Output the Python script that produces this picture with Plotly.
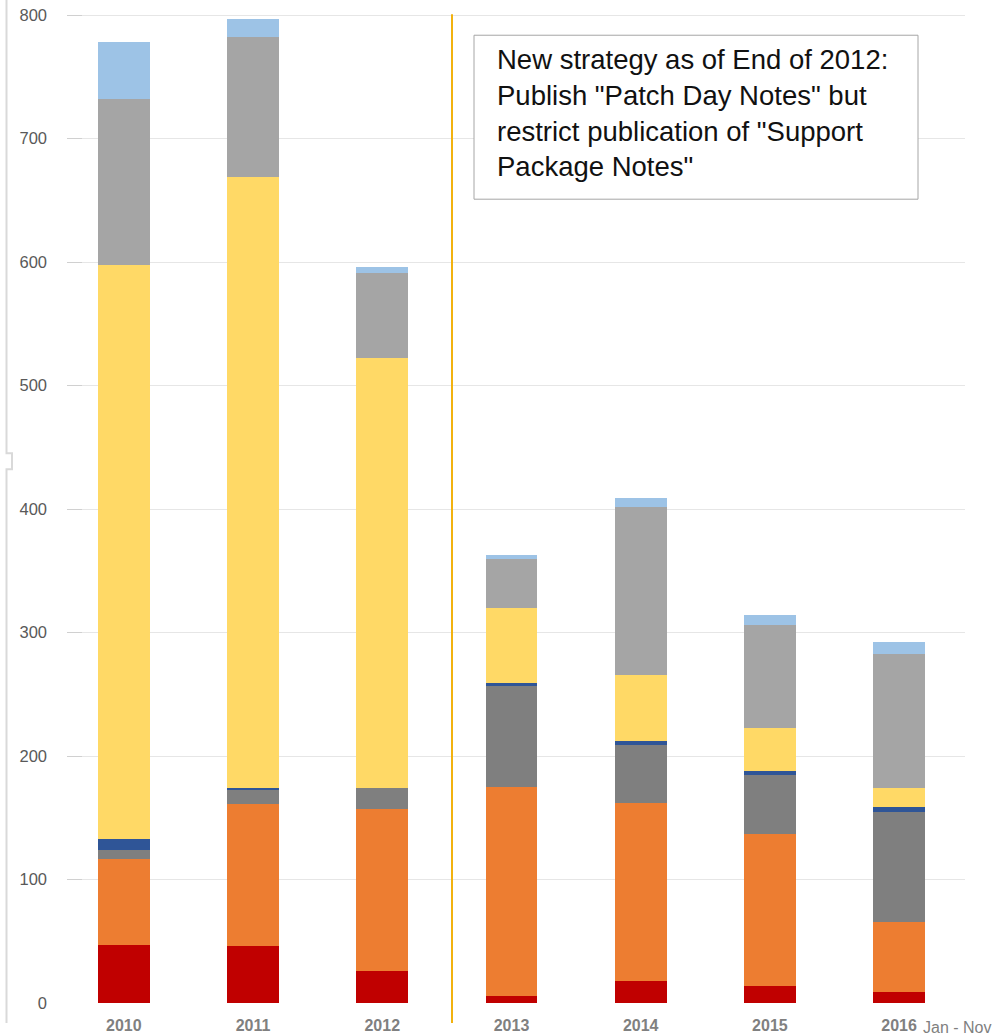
import plotly.graph_objects as go

years = ["2010", "2011", "2012", "2013", "2014", "2015", "2016"]
s_red = [47, 46, 26, 6, 18, 14, 9]
s_orange = [70, 115, 131, 169, 144, 123, 57]
s_dkgray = [7, 12, 17, 82, 47, 48, 89]
s_blue = [9, 1, 0, 2, 3, 3, 4]
s_yellow = [465, 495, 348, 61, 54, 35, 15]
s_gray = [134, 113, 69, 40, 136, 83, 109]
s_ltblue = [46, 15, 5, 3, 7, 8, 9]

series = [
    ("s1", s_red, "#C00000"),
    ("s2", s_orange, "#ED7D31"),
    ("s3", s_dkgray, "#7F7F7F"),
    ("s4", s_blue, "#2F5597"),
    ("s5", s_yellow, "#FFD966"),
    ("s6", s_gray, "#A5A5A5"),
    ("s7", s_ltblue, "#9DC3E6"),
]

# pixel helpers for decorations (plot area: x 67..965, y ~13.8..1003)
PLOT_TOP = 1003 - 801 * 988 / 800.0
PLOT_H = 1003 - PLOT_TOP

def px(sx):
    return (sx - 67) / 898.0

def py(sy):
    return (1003 - sy) / PLOT_H

fig = go.Figure()
for name, vals, col in series:
    fig.add_trace(go.Bar(x=years, y=vals, name=name, marker=dict(color=col, line=dict(width=0))))

fig.update_layout(
    barmode="stack",
    bargap=0.6,
    width=995, height=1036,
    margin=dict(l=67, r=30, t=PLOT_TOP, b=33, autoexpand=False),
    plot_bgcolor="white", paper_bgcolor="white",
    showlegend=False,
    font=dict(family="Liberation Sans, Arial", color="#595959"),
)
fig.update_yaxes(range=[0, 801], tickvals=[0, 100, 200, 300, 400, 500, 600, 700, 800],
                 showgrid=True, gridcolor="#E6E6E6", gridwidth=1,
                 zeroline=False, showline=False, ticks="inside", ticklen=15, tickcolor="#D0D0D0",
                 tickfont=dict(size=16.5, color="#595959"), ticklabelstandoff=19,
                 ticklabeloverflow="allow")
fig.update_xaxes(range=[-0.44, 6.51], showgrid=False, showline=False, ticks="",
                 tickfont=dict(size=16, color="#808080", family="Liberation Sans"),
                 tickvals=years, ticktext=["<b>%s</b>" % y for y in years], ticklabelstandoff=11)

# vertical strategy-change line
fig.add_shape(type="line", xref="paper", yref="paper", x0=px(452), x1=px(452), y0=py(1023), y1=py(14),
              line=dict(color="#F2B20F", width=2))
# left border line with small bracket
path = "M {a},{t} L {a},{b1} L {c},{b1} L {c},{b2} L {a},{b2} L {a},{bot}".format(
    a=px(6.5), c=px(12), t=py(-10), b1=py(453), b2=py(469), bot=py(1023))
fig.add_shape(type="path", xref="paper", yref="paper", path=path,
              line=dict(color="#D9D9D9", width=2))

# text box
fig.add_shape(type="rect", xref="paper", yref="paper", x0=px(474), x1=px(918), y0=py(199), y1=py(35),
              line=dict(color="#A6A6A6", width=1), fillcolor="white")
fig.add_annotation(xref="paper", yref="paper", x=px(495), y=py(113), xanchor="left", yanchor="middle",
                   text="New strategy as of End of 2012:<br>Publish \"Patch Day Notes\" but<br>restrict publication of \"Support<br>Package Notes\"",
                   showarrow=False, align="left",
                   font=dict(family="Liberation Sans, Arial", size=27.5, color="#111111"))

fig.add_annotation(xref="paper", yref="paper", x=px(921), y=0, xanchor="left", yanchor="middle", yshift=-24,
                   text="Jan - Nov", showarrow=False, font=dict(size=16, color="#7F7F7F"))

fig.write_html("out.html", config={"displayModeBar": False},
               post_script="document.body.style.margin='0';")
